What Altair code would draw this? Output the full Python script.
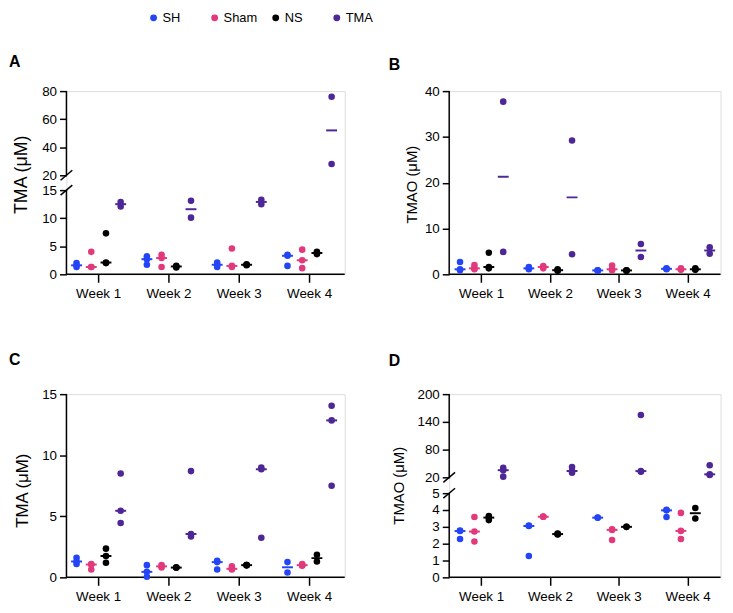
import altair as alt
import pandas as pd

WEEKS = ["Week 1", "Week 2", "Week 3", "Week 4"]
GROUPS = ["SH", "Sham", "NS", "TMA"]
COLORS = ["#2445f5", "#e2397c", "#000000", "#4d2796"]

# Panel A - TMA (uM); one inner list per week
A_SH   = [[2.0, 1.6, 1.3], [3.2, 2.7, 1.7], [2.1, 1.7, 1.3], [3.5, 3.3, 1.5]]
A_SHAM = [[4.0, 1.3, 1.3], [3.5, 2.9, 1.3], [4.6, 1.5, 1.3], [4.4, 2.5, 1.1]]
A_NS   = [[7.3, 2.1, 2.0], [1.5, 1.4, 1.2], [1.8, 1.7, 1.6], [4.0, 3.8, 3.6]]
A_TMA  = [[12.9, 12.1], [13.1, 10.1], [13.3, 12.5], [76.0, 28.0]]

# Panel B - TMAO (uM)
B_SH   = [[2.7, 1.1, 0.9], [1.6, 1.3, 1.1], [0.9, 0.85, 0.8], [1.3, 1.2, 1.1]]
B_SHAM = [[2.0, 1.3, 1.1], [1.8, 1.6, 1.3], [1.9, 1.1, 0.9], [1.3, 1.1, 1.0]]
B_NS   = [[4.7, 1.6, 1.3], [1.1, 0.9, 0.8], [0.9, 0.85, 0.8], [1.3, 1.1, 1.0]]
B_TMA  = [[37.7, 4.9], [29.2, 4.4], [6.6, 3.8], [5.9, 4.5]]

# Panel C - TMA (uM)
C_SH   = [[1.6, 1.3, 1.1], [1.0, 0.45, 0.05], [1.35, 1.25, 0.65], [1.25, 0.4]]
C_SHAM = [[1.1, 1.05, 0.65], [1.0, 0.9, 0.8], [0.9, 0.7, 0.65], [1.1, 1.0, 0.95]]
C_NS   = [[2.35, 1.75, 1.2], [0.8, 0.8, 0.8], [1.0, 1.0, 1.0], [1.85, 1.3]]
C_TMA  = [[8.5, 5.45, 4.45], [8.7, 3.55, 3.35], [9.0, 8.85, 3.25], [14.05, 12.85, 7.5]]

# Panel D - TMAO (uM)
D_SH   = [[2.78, 2.75, 2.28], [3.08, 3.05, 1.27], [3.55, 3.54], [4.02, 3.98, 3.58]]
D_SHAM = [[3.58, 2.72, 2.13], [3.62, 3.6, 3.6], [2.86, 2.82, 2.22], [3.83, 2.76, 2.28]]
D_NS   = [[3.65, 3.55, 3.4], [2.6, 2.57, 2.55], [3.0, 3.0], [4.12, 3.5]]
D_TMA  = [[40.5, 35.5, 21.5], [42.5, 33.5, 30.0], [155.0, 33.5, 32.0], [46.0, 26.5, 25.0]]

# Axis definitions (broken axes use a piecewise scale)
A_DOMAIN, A_TICKS, A_SEGS, A_BREAKS = [0, 15, 20, 80], [0, 5, 10, 15, 20, 40, 60, 80], [(0, 15), (20, 80)], [15, 20]
B_DOMAIN, B_TICKS, B_SEGS, B_BREAKS = [0, 40], [0, 10, 20, 30, 40], [(0, 40)], []
C_DOMAIN, C_TICKS, C_SEGS, C_BREAKS = [0, 15], [0, 5, 10, 15], [(0, 15)], []
D_DOMAIN, D_TICKS, D_SEGS, D_BREAKS = [0, 5, 20, 200], [0, 1, 2, 3, 4, 5, 20, 80, 140, 200], [(0, 5), (20, 200)], [5, 20]

W_LEFT, W_RIGHT, H = 281, 274, 185
FONT = "Liberation Sans"


def to_df(sh, sham, ns, tma):
    rows = []
    for g, series in zip(GROUPS, [sh, sham, ns, tma]):
        for wk, vals in zip(WEEKS, series):
            for v in vals:
                rows.append({"week": wk, "group": g, "value": v})
    return pd.DataFrame(rows)


cscale = alt.Scale(domain=GROUPS, range=COLORS)


def panel(df, W, xrange, letter, lx, ly, ytitle, tsize, tx, ty, ydomain, yrange, yticks, segs, breaks,
          with_legend=False):
    xaxis = alt.Axis(title=None, domain=False, labelAngle=0, tickSize=8, tickWidth=1.5,
                     tickColor="black", labelPadding=4, labelFontSize=13.5,
                     labelFont=FONT, labelColor="black")
    xenc = alt.X("week:N", sort=WEEKS, axis=xaxis,
                 scale=alt.Scale(domain=WEEKS, range=xrange, paddingInner=0, paddingOuter=0))
    xoff = alt.XOffset("group:N", sort=GROUPS,
                       scale=alt.Scale(domain=GROUPS, paddingOuter=0.39, paddingInner=0))
    yscale = alt.Scale(domain=ydomain, range=yrange, nice=False, zero=False)
    yaxis = alt.Axis(title=ytitle, values=yticks, domain=False, grid=False, tickSize=7, tickWidth=1.5,
                     tickColor="black", labelPadding=3, labelFontSize=13.5, labelFont=FONT,
                     labelColor="black", titleFont=FONT, titleFontSize=tsize, titleFontWeight="normal",
                     titleColor="black", titleX=tx, titleY=ty, titleAngle=270, titleAlign="center",
                     titleBaseline="middle")

    def Y(field="value:Q"):
        return alt.Y(field, scale=yscale, axis=yaxis)

    segdf = pd.DataFrame({"value": [s[0] for s in segs], "value2": [s[1] for s in segs]})
    data_layers = [
        alt.Chart(segdf).mark_rule(color="black", strokeWidth=1.5).encode(
            x=alt.value(0), y=Y(), y2="value2:Q"),
        alt.Chart(pd.DataFrame({"value": [ydomain[0]]})).mark_rule(color="black", strokeWidth=1.5).encode(
            x=alt.value(0), x2=alt.value(W), y=Y()),
    ]
    if breaks:
        data_layers.append(
            alt.Chart(pd.DataFrame({"value": breaks})).mark_point(
                shape="M-1,0.85L1,-0.85", filled=False, color="black", strokeWidth=1.5,
                size=140, opacity=1).encode(x=alt.value(0), y=Y()))
    base = alt.Chart(df)
    data_layers.append(base.mark_circle(size=44, opacity=1).encode(
        x=xenc, xOffset=xoff, y=Y(),
        color=alt.Color("group:N", scale=cscale, legend=None)))
    data_layers.append(base.mark_tick(size=11, thickness=2).encode(
        x=xenc, xOffset=xoff, y=Y("median(value):Q"),
        color=alt.Color("group:N", scale=cscale, legend=None)))
    data_layers.append(alt.Chart(pd.DataFrame({"t": [letter]})).mark_text(
        align="left", baseline="middle", font=FONT, fontSize=16, fontWeight="bold",
        color="black").encode(text="t:N", x=alt.value(lx), y=alt.value(ly)))
    body = alt.layer(*data_layers)

    if not with_legend:
        return body.properties(width=W, height=H)

    legdf = pd.DataFrame({"group": GROUPS})
    lgx = alt.X("group:N", sort=GROUPS, axis=None,
                scale=alt.Scale(type="point", domain=GROUPS, range=[88, 273], padding=0))
    leg = alt.layer(
        alt.Chart(legdf).mark_circle(size=48, opacity=1).encode(
            x=lgx, y=alt.value(-74), color=alt.Color("group:N", scale=cscale, legend=None)),
        alt.Chart(legdf).mark_text(
            align="left", baseline="middle", dx=9, font=FONT, fontSize=13, color="black").encode(
            x=lgx, y=alt.value(-74), text="group:N"),
    )
    return alt.layer(body, leg).resolve_scale(x="independent").properties(width=W, height=H)


XR_LEFT = [-3, 281]
XR_RIGHT = [-2, 276]

pA = panel(to_df(A_SH, A_SHAM, A_NS, A_TMA), W_LEFT, XR_LEFT, "A", -58, -29.5, "TMA (\u03bcM)", 18,
           -45, 84, A_DOMAIN, [H, 100, 85, 0], A_TICKS, A_SEGS, A_BREAKS, with_legend=True)
pB = panel(to_df(B_SH, B_SHAM, B_NS, B_TMA), W_RIGHT, XR_RIGHT, "B", -61, -26, "TMAO (\u03bcM)", 15,
           -38, 94, B_DOMAIN, [H, 0], B_TICKS, B_SEGS, B_BREAKS)
pC = panel(to_df(C_SH, C_SHAM, C_NS, C_TMA), W_LEFT, XR_LEFT, "C", -58, -34.5, "TMA (\u03bcM)", 17,
           -44, 97, C_DOMAIN, [H, 0], C_TICKS, C_SEGS, C_BREAKS)
pD = panel(to_df(D_SH, D_SHAM, D_NS, D_TMA), W_RIGHT, XR_RIGHT, "D", -61, -33.5, "TMAO (\u03bcM)", 15,
           -51, 92, D_DOMAIN, [H, 100, 84, 0], D_TICKS, D_SEGS, D_BREAKS)

chart = alt.concat(pA, pB, pC, pD, columns=2, spacing={"row": 52, "column": 14.5}).resolve_scale(
    x="independent", y="independent", xOffset="independent", color="shared"
).properties(padding=0).configure_view(stroke=None).configure(font=FONT)

chart.save("out.html", embed_options={"renderer": "svg", "actions": False})
